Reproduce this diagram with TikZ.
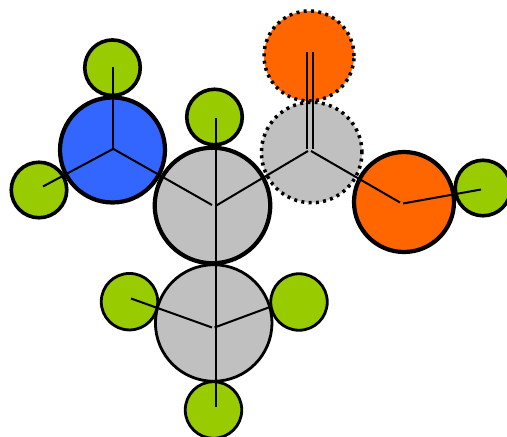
\documentclass[tikz,border=0pt]{standalone}
\definecolor{atomgreen}{HTML}{99CC00}
\definecolor{atomblue}{HTML}{3366FF}
\definecolor{atomorange}{HTML}{FF6600}
\definecolor{atomgray}{HTML}{C0C0C0}
\tikzset{
  atom/.style={circle,draw=black,inner sep=0pt,outer sep=0pt},
  hydro/.style={atom,fill=atomgreen,minimum size=55.5bp,line width=3.6bp},
  hydrothin/.style={atom,fill=atomgreen,minimum size=56.5bp,line width=2.8bp},
  carbon/.style={atom,fill=atomgray,minimum size=115.5bp,line width=4.2bp},
  carbonthin/.style={atom,fill=atomgray,minimum size=116.5bp,line width=2.8bp},
  nitrogen/.style={atom,fill=atomblue,minimum size=105bp,line width=4.2bp},
  oxygen/.style={atom,fill=atomorange,minimum size=100bp,line width=4.2bp},
  dotted atom/.style={line width=3.5bp,dash pattern=on 3bp off 4.3bp},
  bond/.style={draw=black,line width=2bp},
}
\begin{document}
\begin{tikzpicture}[x=1bp,y=-1bp]
\useasboundingbox (0,0) rectangle (507,437);
\clip (0,0) rectangle (507,437);
% atoms
\node[atom,fill=atomorange,minimum size=90bp,dotted atom] (otop) at (309,56) {};
\node[atom,fill=atomgray,minimum size=100.5bp,dotted atom] (cdot) at (311.7,152.5) {};
\node[hydro] (h1) at (112.5,67.7) {};
\node[hydro] (h2) at (39,190) {};
\node[nitrogen] (n) at (112.5,150) {};
\node[hydro] (h3) at (214.5,117) {};
\node[carbon] (c1) at (212.5,205.5) {};
\node[oxygen] (o2) at (404,202) {};
\node[hydro] (h4) at (483,188) {};
\node[hydrothin] (h5) at (129.5,301.7) {};
\node[hydrothin] (h6) at (299,302) {};
\node[hydrothin] (h7) at (213.5,410) {};
\node[carbonthin] (c2) at (213.7,323) {};
% bond end points
\coordinate (nv) at (113,149);
\coordinate (nh1) at (113,67);
\coordinate (nh2) at (43,186.5);
\coordinate (nc) at (113.5,149);
\coordinate (c1n) at (212,205);
\coordinate (c1v) at (215.5,206);
\coordinate (c1h) at (215.7,118);
\coordinate (c1d) at (215.7,407);
\coordinate (dc1) at (308,151);
\coordinate (dv) at (311,151);
\coordinate (o2a) at (400,202.5);
\coordinate (o2b) at (403,203.5);
\coordinate (h4e) at (481,189.5);
\coordinate (c2v) at (212,327.5);
\coordinate (c2h5) at (131,298.5);
\coordinate (c2w) at (214.5,327.5);
\coordinate (c2h6) at (270,307);
\coordinate (da) at (307,149);
\coordinate (oa) at (307,52);
\coordinate (db) at (313,149);
\coordinate (ob) at (313,52);
% bonds
\draw[bond] (nv) -- (nh1);
\draw[bond] (nv) -- (nh2);
\draw[bond] (nc) -- (c1n);
\draw[bond] (c1h) -- (c1d);
\draw[bond] (c1v) -- (dc1);
\draw[bond] (da) -- (oa);
\draw[bond] (db) -- (ob);
\draw[bond] (dv) -- (o2a);
\draw[bond] (o2b) -- (h4e);
\draw[bond] (c2v) -- (c2h5);
\draw[bond] (c2w) -- (c2h6);
\end{tikzpicture}
\end{document}
